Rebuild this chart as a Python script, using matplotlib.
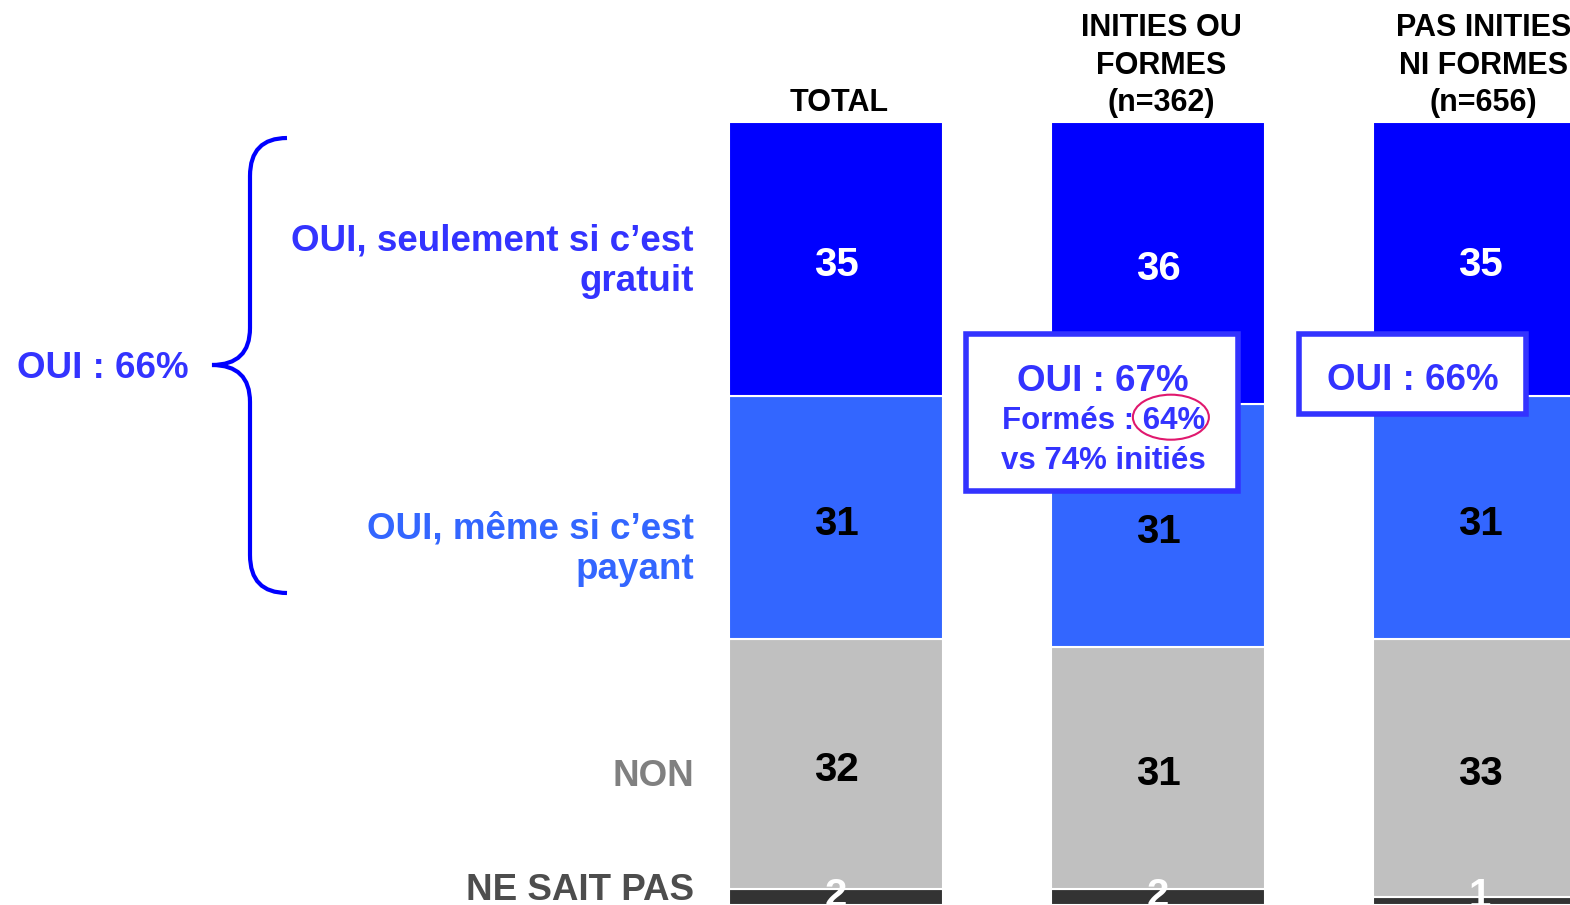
import matplotlib
matplotlib.use("Agg")
import matplotlib.pyplot as plt
from matplotlib.patches import Rectangle, Ellipse, PathPatch
from matplotlib.path import Path
import numpy as np

plt.rcParams['font.family'] = ['Liberation Sans', 'DejaVu Sans']
plt.rcParams['font.weight'] = 'bold'

groups = ["TOTAL", "INITIES OU\nFORMES\n(n=362)", "PAS INITIES\nNI FORMES\n(n=656)"]
gratuit = [35, 36, 35]
payant = [31, 31, 31]
non = [32, 31, 33]
nsp = [2, 2, 1]

series_names = ["NE SAIT PAS", "NON", "OUI, même si c’est\npayant", "OUI, seulement si c’est\ngratuit"]
series_vals = [nsp, non, payant, gratuit]
bar_colors = ["#333333", "#C0C0C0", "#3366FF", "#0000FF"]
value_colors = ["white", "black", "black", "white"]
name_colors = ["#4D4D4D", "#808080", "#3366FF", "#3333FF"]

oui_total = "OUI : 66%"
box_initie = ["OUI : 67%", "Formés : 64%", "vs 74% initiés"]
box_pas = "OUI : 66%"

W, H = 1570, 905
fig = plt.figure(figsize=(W / 100, H / 100), dpi=100)
ax = fig.add_axes([0, 0, 1, (H - 122) / H])
spacing = 322
x0 = 836
ax.set_xlim(-x0 / spacing, (W - x0) / spacing)
ax.set_ylim(0, 100)
ax.axis("off")

x = np.arange(len(groups))
bottom = np.zeros(len(groups))
label_shift = [0.8, -1.6, -4.1, -0.3]
for vals, col, vcol, name, ncol, sh in zip(series_vals, bar_colors, value_colors,
                                           series_names, name_colors, label_shift):
    vals = np.array(vals, dtype=float)
    ax.bar(x, vals, bottom=bottom, width=214 / spacing, color=col,
           edgecolor="white", linewidth=1.5)
    for xi, v, b in zip(x, vals, bottom):
        ax.text(xi, max(b + v / 2, 2.0) - 0.8, f"{int(v)}", ha="center", va="center",
                color=vcol, fontsize=29, fontweight="bold")
    ax.text((694 - x0) / spacing, bottom[0] + vals[0] / 2 + sh, name,
            ha="right", va="center", color=ncol, fontsize=26.5,
            fontweight="bold", linespacing=1.2)
    bottom += vals

for xi, g in zip(x, groups):
    ax.text(xi + 0.01, 100.5, g, ha="center", va="bottom", fontsize=22,
            fontweight="bold", color="black", linespacing=1.32)

# annotation boxes
blue_txt = "#3333FF"
ax.add_patch(Rectangle((0.405, 52.9), 0.845, 20.0, facecolor="white",
                       edgecolor=blue_txt, linewidth=4, zorder=5))
ax.text(0.83, 66.9, box_initie[0], ha="center", va="center", color=blue_txt,
        fontsize=26.5, fontweight="bold", zorder=6)
ax.text(0.83, 61.8, box_initie[1], ha="center", va="center", color=blue_txt,
        fontsize=22.5, fontweight="bold", zorder=6)
ax.text(0.83, 56.7, box_initie[2], ha="center", va="center", color=blue_txt,
        fontsize=22.5, fontweight="bold", zorder=6)
ax.add_patch(Ellipse((1.040, 62.3), 0.236, 5.75, facecolor="none",
                     edgecolor="#E0186E", linewidth=1.5, zorder=7))
ax.add_patch(Rectangle((1.437, 62.7), 0.705, 10.2, facecolor="white",
                       edgecolor=blue_txt, linewidth=4, zorder=5))
ax.text(1.79, 67.0, box_pas, ha="center", va="center", color=blue_txt,
        fontsize=26.5, fontweight="bold", zorder=6)

# brace and total OUI label in pixel coordinates
ov = fig.add_axes([0, 0, 1, 1], facecolor="none")
ov.set_xlim(0, W)
ov.set_ylim(H, 0)
ov.axis("off")
verts = [(287, 138), (250, 138), (250, 176),
         (250, 328),
         (250, 365), (212, 365),
         (250, 365), (250, 402),
         (250, 555),
         (250, 593), (287, 593)]
codes = [Path.MOVETO, Path.CURVE3, Path.CURVE3,
         Path.LINETO,
         Path.CURVE3, Path.CURVE3,
         Path.CURVE3, Path.CURVE3,
         Path.LINETO,
         Path.CURVE3, Path.CURVE3]
ov.add_patch(PathPatch(Path(verts, codes), facecolor="none",
                       edgecolor="#0000FF", linewidth=3))
ov.text(17, 368, oui_total, ha="left", va="center", color=blue_txt,
        fontsize=26.5, fontweight="bold")

fig.savefig("out.png", dpi=100)
